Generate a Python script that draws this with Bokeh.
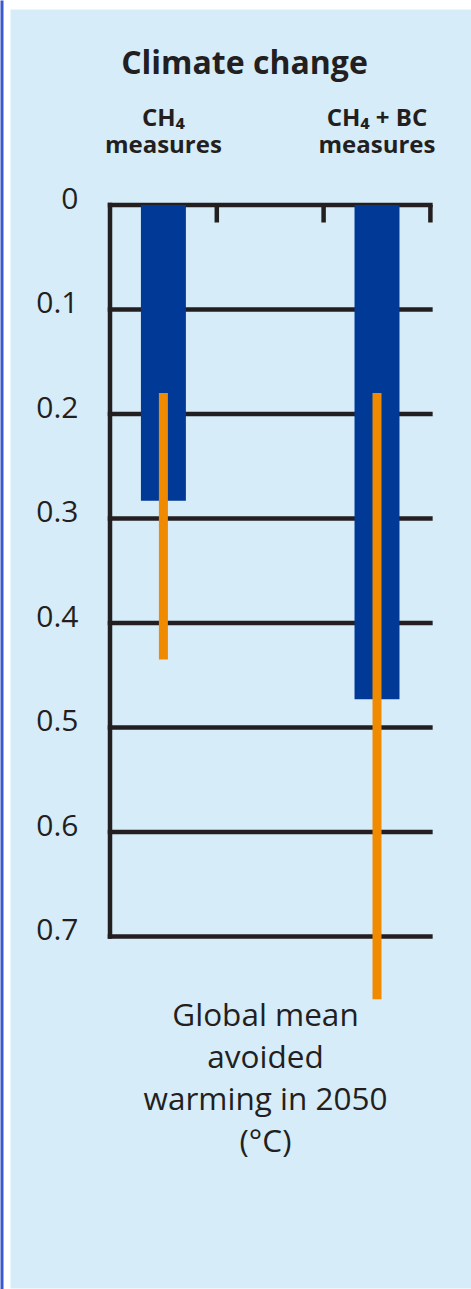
from bokeh.plotting import figure
from bokeh.models import Range1d
from bokeh.core.properties import value
from bokeh.embed import file_html
from bokeh.resources import INLINE

# ---- data ----
cat_line1 = ["CH\u2084", "CH\u2084 + BC"]
cat_line2 = ["measures", "measures"]
bar_values = [0.283, 0.473]          # central estimate of avoided warming (°C)
range_low = [0.18, 0.18]             # top of orange uncertainty line
range_high = [0.435, 0.76]           # bottom of orange uncertainty line
y_ticks = [0.0, 0.1, 0.2, 0.3, 0.4, 0.5, 0.6, 0.7]
y_tick_labels = ["0", "0.1", "0.2", "0.3", "0.4", "0.5", "0.6", "0.7"]
title_text = "Climate change"
unit_lines = ["Global mean", "avoided", "warming in 2050", "(\u00b0C)"]

# ---- styling ----
BG = "#d6ecf9"
INK = "#231f20"
BLUE = "#003a96"
ORANGE = "#f08a00"
STRIP = "#3b57cc"
FONT = value("Open Sans")

n = len(bar_values)
bar_x = [0.5 + 2 * i for i in range(n)]
x_end = 2 * (n - 1) + 1  # right end of the frame lines

p = figure(width=471, height=1289, output_backend="svg", toolbar_location=None,
           x_range=Range1d(-1.0253, 3.3848), y_range=Range1d(1.0378, -0.1957),
           x_axis_location=None, y_axis_location=None)
p.min_border = 0
p.background_fill_color = "white"
p.border_fill_color = "white"
p.outline_line_color = None
p.grid.visible = False

# panel background and left edge strip
p.quad(left=[-0.9316], right=[3.40], top=[-0.1871], bottom=[1.0368],
       fill_color=BG, line_color=None)
p.quad(left=[-1.03], right=[-0.9972], top=[-0.2], bottom=[1.04],
       fill_color=STRIP, line_color=None)

# horizontal lines
p.segment(x0=[0] * len(y_ticks), x1=[x_end] * len(y_ticks), y0=y_ticks, y1=y_ticks,
          line_color=INK, line_width=4.5, line_cap="square")
# vertical axis line
p.segment(x0=[0], x1=[0], y0=[y_ticks[0]], y1=[y_ticks[-1]],
          line_color=INK, line_width=4.5, line_cap="square")
# top tick marks
tick_x = list(range(1, x_end + 1))
p.segment(x0=tick_x, x1=tick_x, y0=[y_ticks[0]] * len(tick_x), y1=[0.0167] * len(tick_x),
          line_color=INK, line_width=4.5)

# y tick labels
p.text(x=[-0.295] * len(y_ticks), y=[t - 0.0067 for t in y_ticks], text=y_tick_labels,
       text_font=FONT, text_font_size="30px", text_color=INK,
       text_align="right", text_baseline="alphabetic")

# bars
p.vbar(x=bar_x, width=0.421, top=[0] * n, bottom=bar_values,
       fill_color=BLUE, line_color=None)
# uncertainty lines
p.segment(x0=bar_x, x1=bar_x, y0=range_low, y1=range_high,
          line_color=ORANGE, line_width=9, line_cap="butt")

# texts
p.text(x=[1.2594], y=[-0.1373], text=[title_text], text_font=FONT,
       text_font_style="bold", text_font_size="32px", text_color=INK,
       text_align="center", text_baseline="alphabetic")
p.text(x=bar_x, y=[-0.0847] * n, text=cat_line1, text_font=FONT,
       text_font_style="bold", text_font_size="24px", text_color=INK,
       text_align="center", text_baseline="alphabetic")
p.text(x=bar_x, y=[-0.0589] * n, text=cat_line2, text_font=FONT,
       text_font_style="bold", text_font_size="24px", text_color=INK,
       text_align="center", text_baseline="alphabetic")
p.text(x=[1.456] * len(unit_lines), y=[0.7736, 0.8136, 0.8536, 0.8946], text=unit_lines,
       text_font=FONT, text_font_size="31.5px", text_color=INK,
       text_align="center", text_baseline="alphabetic")

open("out.html", "w").write(file_html(p, INLINE))
